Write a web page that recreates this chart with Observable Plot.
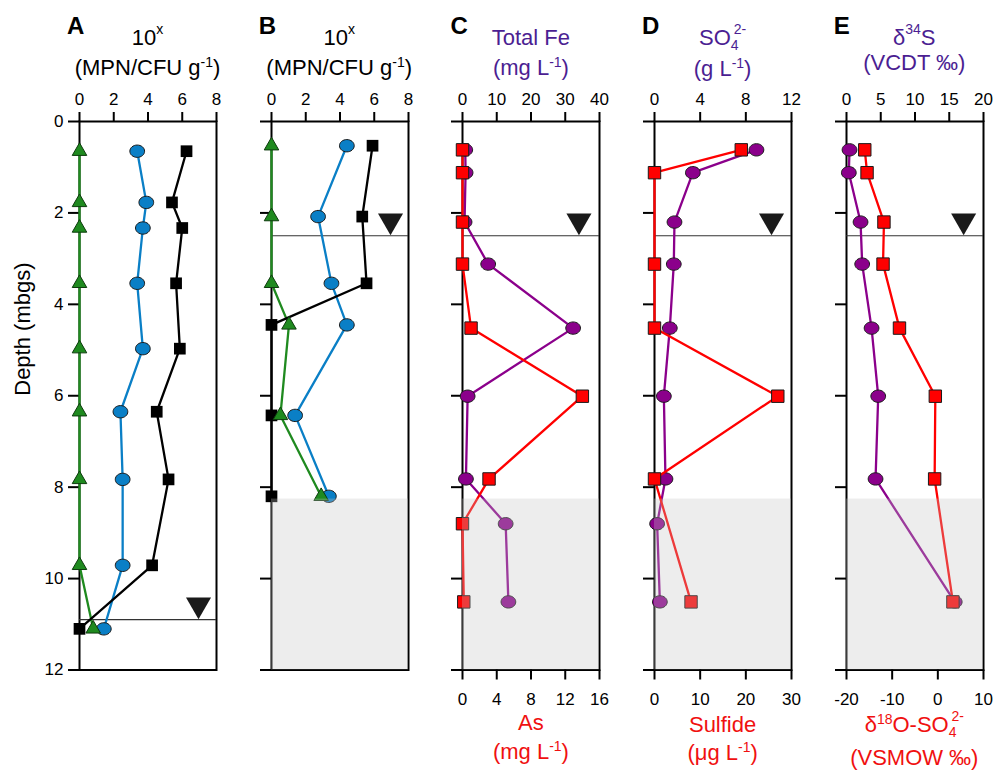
<!DOCTYPE html>
<html>
<head>
<meta charset="utf-8">
<script src="https://cdn.jsdelivr.net/npm/d3@7"></script>
<script src="https://cdn.jsdelivr.net/npm/@observablehq/plot@0.6"></script>
<style>
html,body{margin:0;padding:0;background:#fff;}
#chart{position:relative;width:1002px;height:773px;overflow:hidden;background:#fff;font-family:"Liberation Sans",Arial,Helvetica,sans-serif;}
#chart svg{position:absolute;top:0;}
.lbl{position:absolute;line-height:1;white-space:nowrap;}
.lbl sup,.lbl sub{font-size:14px;line-height:0;position:relative;vertical-align:baseline;}
.lbl sup{top:-8px;}
.lbl sup.hi{top:-11px;}
.lbl sub{top:5px;}
.lbl sub + sup{margin-left:-5px;}
</style>
</head>
<body>
<div id="chart"></div>
<script>
// ---------------- data ----------------
const depthTicks = [0, 2, 4, 6, 8, 10, 12];

// Panel A (10^x MPN/CFU g-1)
const depthA = [0.65, 1.77, 2.33, 3.54, 4.97, 6.35, 7.83, 9.71, 11.1];
const squaresA = [6.25, 5.4, 6.0, 5.64, 5.86, 4.51, 5.2, 4.24, 0];
const circlesA = [3.37, 3.9, 3.7, 3.37, 3.7, 2.39, 2.52, 2.52, 1.42];
const trianglesA = [0, 0, 0, 0, 0, 0, 0, 0, 0.8];
const ticksA = [0, 2, 4, 6, 8];

// Panel B
const depthB = [0.53, 2.08, 3.54, 4.45, 6.43, 8.2];
const squaresB = [5.9, 5.3, 5.55, 0, 0, 0];
const circlesB = [4.4, 2.72, 3.5, 4.4, 1.38, 3.35];
const trianglesB = [0, 0, 0, 1.02, 0.52, 2.9];
const ticksB = [0, 2, 4, 6, 8];

// Panel C (Total Fe mg/L top, As mg/L bottom)
const depthC = [0.62, 1.12, 2.2, 3.12, 4.52, 6.01, 7.82, 8.8, 10.51];
const totalFe = [0.8, 0.9, 0.6, 7.5, 32.3, 1.5, 1.0, 12.6, 13.4];
const arsenic = [0, 0, 0, 0, 1.0, 14.0, 3.1, 0, 0.15];
const ticksFe = [0, 10, 20, 30, 40];
const ticksAs = [0, 4, 8, 12, 16];

// Panel D (SO4 g/L top, sulfide ug/L bottom)
const depthD = [0.62, 1.12, 2.2, 3.12, 4.52, 6.01, 7.82, 8.8, 10.51];
const sulfate = [8.93, 3.36, 1.75, 1.69, 1.34, 0.82, 0.96, 0.23, 0.47];
const depthSulfide = [0.62, 1.12, 3.12, 4.52, 6.01, 7.82, 10.51];
const sulfide = [19.0, 0, 0, 0, 27.0, 0, 8.0];
const ticksSO4 = [0, 4, 8, 12];
const ticksSulfide = [0, 10, 20, 30];

// Panel E (d34S top, d18O bottom)
const depthE = [0.62, 1.12, 2.2, 3.12, 4.52, 6.01, 7.82, 10.51];
const d34S = [0.44, 0.34, 2.05, 2.29, 3.66, 4.63, 4.24, 15.8];
const d18O = [-16.0, -15.5, -11.8, -12.0, -8.4, -0.55, -0.7, 3.3];
const ticksD34S = [0, 5, 10, 15, 20];
const ticksD18O = [-20, -10, 0, 10];

// water table depths and marker positions (in each panel's top-axis units)
const waterTableA = 10.9;
const waterTable = 2.5;
const markerX = [6.95, 6.95, 34.0, 10.25, 17.1];
// shaded (saturated sediment) interval
const shaded = [{top: 8.26, bottom: 12}];

// ---------------- layout ----------------
const chart = document.getElementById("chart");
const FONT = '"Liberation Sans", Arial, Helvetica, sans-serif';
const TOP = 121, BOTTOM = 669.5, H = 773, INNER = 137, STEP = 191.7, LEFT0 = 79;
const panelLeft = i => LEFT0 + i * STEP;

const COL = {black: "#000000", blue: "#0a7fc6", green: "#1f8a1f", purple: "#8b008b",
             red: "#ff0000", title: "#4b1e92", redTitle: "#f01010", shade: "#c4c4c4"};

const ellipse = {
  draw(ctx, size) {
    const r = Math.sqrt(size / Math.PI), rx = r * 1.1, ry = r * 0.92, k = 0.5523;
    ctx.moveTo(rx, 0);
    ctx.bezierCurveTo(rx, ry * k, rx * k, ry, 0, ry);
    ctx.bezierCurveTo(-rx * k, ry, -rx, ry * k, -rx, 0);
    ctx.bezierCurveTo(-rx, -ry * k, -rx * k, -ry, 0, -ry);
    ctx.bezierCurveTo(rx * k, -ry, rx, -ry * k, rx, 0);
    ctx.closePath();
  }
};
const invTriangle = {
  draw(ctx, size) {
    const y = Math.sqrt(size / (3 * Math.sqrt(3))), s3 = Math.sqrt(3);
    ctx.moveTo(0, 2 * y);
    ctx.lineTo(-s3 * y, -y);
    ctx.lineTo(s3 * y, -y);
    ctx.closePath();
  }
};

const rows = (depths, values) => depths.map((depth, i) => ({depth, value: values[i]}));

function makePlot({ml, mr, domain, marks, yAxis = true}) {
  return Plot.plot({
    width: ml + INNER + mr, height: H,
    marginLeft: ml, marginRight: mr, marginTop: TOP, marginBottom: H - BOTTOM,
    x: {domain},
    y: yAxis ? {domain: [0, 12], reverse: true} : {domain: [0, 12], reverse: true, axis: null},
    style: {fontFamily: FONT, fontSize: "17px", color: "#000", background: "transparent", overflow: "visible"},
    marks
  });
}
function place(svg, left) { svg.style.left = left + "px"; chart.appendChild(svg); }

const topAxis = ticks => Plot.axisX(ticks, {anchor: "top", tickSize: 10, tickPadding: 7, strokeWidth: 2, fontSize: 17, tickFormat: d => String(d), label: null});
const bottomAxis = ticks => Plot.axisX(ticks, {anchor: "bottom", tickSize: 10, tickPadding: 13, strokeWidth: 2, fontSize: 17, tickFormat: d => String(d), label: null});
const leftAxis = withLabels => Plot.axisY(depthTicks, {anchor: "left", tickSize: 11, tickPadding: 5, strokeWidth: 2, fontSize: 17, tickFormat: withLabels ? d => String(d) : () => "", label: null});
const wtMarks = (wt, mx) => [
  Plot.ruleY([wt], {stroke: "#333", strokeWidth: 1.2}),
  Plot.dot([{x: mx, y: wt}], {x: "x", y: "y", symbol: invTriangle, r: 9.3, fill: "#1a1a1a", stroke: "none", dy: -15})
];
const line = (data, color) => Plot.line(data, {x: "value", y: "depth", stroke: color, strokeWidth: 2.3});
const circles = (data, color) => Plot.dot(data, {x: "value", y: "depth", symbol: ellipse, r: 6.7, fill: color, stroke: "#1a1a1a", strokeWidth: 1});
const squares = (data, color, r, stroke) => Plot.dot(data, {x: "value", y: "depth", symbol: "square", r, fill: color, stroke, strokeWidth: 1});
const triangles = data => Plot.dot(data, {x: "value", y: "depth", symbol: "triangle", r: 5.4, fill: COL.green, stroke: "#0d3a0d", strokeWidth: 1});
const shade = domain => Plot.rect(shaded, {x1: () => domain[0], x2: () => domain[1], y1: "top", y2: "bottom", fill: COL.shade, fillOpacity: 0.3});
const frame = () => Plot.frame({stroke: "#000", strokeWidth: 2});

// ---------------- Panel A ----------------
{
  const sq = rows(depthA, squaresA), ci = rows(depthA, circlesA), tr = rows(depthA, trianglesA);
  const svg = makePlot({ml: LEFT0, mr: 12, domain: [0, 8], marks: [
    frame(),
    topAxis(ticksA), leftAxis(true),
    Plot.text(["Depth (mbgs)"], {text: d => d, frameAnchor: "left", dx: -57, rotate: -90, fontSize: 22}),
    ...wtMarks(waterTableA, markerX[0]),
    line(ci, COL.blue), line(tr, COL.green), line(sq, COL.black),
    circles(ci, COL.blue), triangles(tr), squares(sq, COL.black, 6.6, "none")
  ]});
  place(svg, 0);
}
// ---------------- Panel B ----------------
{
  const sq = rows(depthB, squaresB), ci = rows(depthB, circlesB), tr = rows(depthB, trianglesB);
  const ml = 24;
  const svg = makePlot({ml, mr: 12, domain: [0, 8], marks: [
    frame(),
    topAxis(ticksB), leftAxis(false),
    ...wtMarks(waterTable, markerX[1]),
    line(ci, COL.blue), line(tr, COL.green), line(sq, COL.black),
    circles(ci, COL.blue), squares(sq, COL.black, 6.6, "none"), triangles(tr),
    shade([0, 8])
  ]});
  place(svg, panelLeft(1) - ml);
}
// ---------------- Panels C, D, E (two overlaid scales each) ----------------
const dual = [
  {i: 2, topDomain: [0, 40], topTicks: ticksFe, top: rows(depthC, totalFe),
   botDomain: [0, 16], botTicks: ticksAs, bot: rows(depthC, arsenic)},
  {i: 3, topDomain: [0, 12], topTicks: ticksSO4, top: rows(depthD, sulfate),
   botDomain: [0, 30], botTicks: ticksSulfide, bot: rows(depthSulfide, sulfide)},
  {i: 4, topDomain: [0, 20], topTicks: ticksD34S, top: rows(depthE, d34S),
   botDomain: [-20, 10], botTicks: ticksD18O, bot: rows(depthE, d18O)}
];
for (const p of dual) {
  const ml = 24, mr = 12, left = panelLeft(p.i) - ml;
  const under = makePlot({ml, mr, domain: p.topDomain, marks: [
    frame(),
    topAxis(p.topTicks), leftAxis(false),
    ...wtMarks(waterTable, markerX[p.i]),
    line(p.top, COL.purple), circles(p.top, COL.purple)
  ]});
  place(under, left);
  const over = makePlot({ml, mr, domain: p.botDomain, yAxis: false, marks: [
    line(p.bot, COL.red), squares(p.bot, COL.red, 7, "#1a1a1a"),
    shade(p.botDomain),
    bottomAxis(p.botTicks)
  ]});
  place(over, left);
}

// ---------------- HTML titles ----------------
function addLabel(html, x, baseline, {size = 22, color = "#000", weight = "normal", center = true} = {}) {
  const div = document.createElement("div");
  div.className = "lbl";
  div.innerHTML = html;
  div.style.left = x + "px";
  div.style.top = (baseline - 0.8465 * size) + "px";
  div.style.fontSize = size + "px";
  div.style.color = color;
  div.style.fontWeight = weight;
  if (center) div.style.transform = "translateX(-50%)";
  chart.appendChild(div);
}
const letters = ["A", "B", "C", "D", "E"];
letters.forEach((L, i) => addLabel(L, panelLeft(i) - 12, 34, {size: 24, weight: "bold", center: false}));

const topTitles = [
  ["10<sup class='hi'>x</sup>", "(MPN/CFU g<sup>-1</sup>)", "#000", 76],
  ["10<sup class='hi'>x</sup>", "(MPN/CFU g<sup>-1</sup>)", "#000", 76],
  ["Total Fe", "(mg L<sup>-1</sup>)", COL.title, 76],
  ["SO<sub>4</sub><sup class='hi'>2-</sup>", "(g L<sup>-1</sup>)", COL.title, 77],
  ["δ<sup class='hi'>34</sup>S", "(VCDT ‰)", COL.title, 71]
];
topTitles.forEach(([l1, l2, c, b2], i) => {
  const cx = panelLeft(i) + INNER / 2;
  addLabel(l1, cx, 46, {color: c});
  addLabel(l2, cx, b2, {color: c});
});
const bottomTitles = [
  [2, "As", "(mg L<sup>-1</sup>)", 731, 760],
  [3, "Sulfide", "(μg L<sup>-1</sup>)", 733, 761],
  [4, "δ<sup>18</sup>O-SO<sub>4</sub><sup class='hi'>2-</sup>", "(VSMOW ‰)", 733, 766]
];
bottomTitles.forEach(([i, l1, l2, b1, b2]) => {
  const cx = panelLeft(i) + INNER / 2;
  addLabel(l1, cx, b1, {color: COL.redTitle});
  addLabel(l2, cx, b2, {color: COL.redTitle});
});
</script>
</body>
</html>
